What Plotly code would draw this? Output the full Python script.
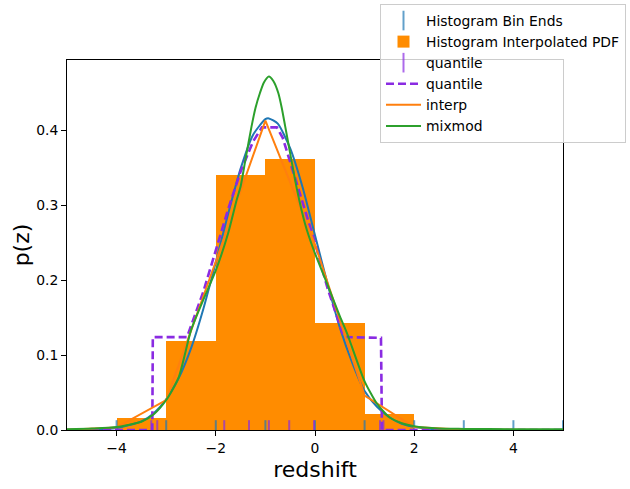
import plotly.graph_objects as go

# ---------------- data ----------------
bin_edges = [-4, -3, -2, -1, 0, 1, 2, 3, 4, 5]
bin_heights = [0.016, 0.119, 0.340, 0.362, 0.143, 0.021, 0.0, 0.0, 0.0]

quantile_locs = [-3.30, -3.18, -1.83, -1.33, -0.93, -0.52, -0.02, 1.31, 1.38]

quant_x = [-5.0, -3.28, -3.27, -2.58, -2.25, -2.0, -1.75, -1.5, -1.25, -1.07,
           -0.77, -0.65, -0.5, -0.25, 0.0, 0.25, 0.5, 0.58, 1.33, 1.35, 5.0]
quant_y = [0.0, 0.0, 0.124, 0.124, 0.185, 0.240, 0.295, 0.345, 0.385, 0.404,
           0.404, 0.390, 0.358, 0.305, 0.250, 0.190, 0.140, 0.124, 0.123, 0.0, 0.0]

interp_x = [-5, -4, -3, -2, -1, 0, 1, 2, 3, 4, 5]
interp_y = [0.0003, 0.0035, 0.040, 0.225, 0.413, 0.248, 0.046, 0.004, 0.0005, 0.0001, 0.0]

mix_x = [-5.0, -4.5, -4.0, -3.5, -3.25, -3.0, -2.75, -2.5, -2.25, -2.0, -1.75,
         -1.58, -1.5, -1.4, -1.28, -1.2, -1.11, -1.03, -0.93, -0.84, -0.74, -0.67,
         -0.6, -0.48, -0.36, -0.2, -0.03,
         0.24, 0.5, 0.64, 0.75, 1.0, 1.25, 1.5, 1.75, 2.0, 2.5, 3.0, 4.0, 5.0]
mix_y = [0.001, 0.002, 0.004, 0.011, 0.021, 0.040, 0.070, 0.133, 0.174, 0.213, 0.263,
         0.307, 0.325, 0.362, 0.405, 0.430, 0.450, 0.464, 0.472, 0.466, 0.450, 0.430,
         0.405, 0.362, 0.320, 0.275, 0.241,
         0.196, 0.152, 0.130, 0.110, 0.065, 0.035, 0.017, 0.009, 0.005, 0.002, 0.0015, 0.001, 0.001]

true_x = [-5.0, -4.5, -4.0, -3.5, -3.25, -3.0, -2.75, -2.5, -2.25, -2.0, -1.75,
          -1.5, -1.25, -1.0, -0.93, -0.75, -0.5, -0.25, 0.0, 0.25, 0.5, 0.75,
          1.0, 1.25, 1.5, 1.75, 2.0, 2.5, 3.0, 4.0, 5.0]
true_y = [0.0001, 0.0004, 0.0025, 0.0116, 0.0225, 0.041, 0.069, 0.109, 0.162, 0.224, 0.289,
          0.349, 0.394, 0.415, 0.416, 0.409, 0.376, 0.324, 0.260, 0.196, 0.137, 0.090,
          0.052, 0.031, 0.017, 0.0084, 0.004, 0.0007, 0.0001, 0.0, 0.0]

# ---------------- figure ----------------
centers = [(bin_edges[i] + bin_edges[i + 1]) / 2 for i in range(len(bin_heights))]
widths = [bin_edges[i + 1] - bin_edges[i] for i in range(len(bin_heights))]

fig = go.Figure()

fig.add_trace(go.Scatter(
    x=bin_edges, y=[0] * len(bin_edges), mode="markers", name="Histogram Bin Ends",
    marker=dict(symbol="line-ns", size=14, line=dict(width=2, color="rgba(31,119,180,0.7)")),
))
fig.add_trace(go.Bar(
    x=centers, y=bin_heights, width=widths, name="Histogram Interpolated PDF",
    marker=dict(color="#ff8c00", line=dict(width=0)),
))
fig.add_trace(go.Scatter(
    x=true_x, y=true_y, mode="lines", showlegend=False,
    line=dict(color="#1f77b4", width=2, shape="spline", smoothing=0.6),
))
fig.add_trace(go.Scatter(
    x=quantile_locs, y=[0] * len(quantile_locs), mode="markers", name="quantile",
    marker=dict(symbol="line-ns", size=14, line=dict(width=2, color="rgba(138,43,226,0.7)")),
))
fig.add_trace(go.Scatter(
    x=quant_x, y=quant_y, mode="lines", name="quantile",
    line=dict(color="#8a2be2", width=2.6, dash="8px,4px"),
))
fig.add_trace(go.Scatter(
    x=interp_x, y=interp_y, mode="lines", name="interp",
    line=dict(color="#ff7f0e", width=2),
))
fig.add_trace(go.Scatter(
    x=mix_x, y=mix_y, mode="lines", name="mixmod",
    line=dict(color="#2ca02c", width=2, shape="spline", smoothing=0.6),
))

fig.update_layout(
    width=630, height=489,
    margin=dict(l=67, r=67, t=60, b=59, autoexpand=False),
    paper_bgcolor="white", plot_bgcolor="white",
    font=dict(family="DejaVu Sans", size=13.9, color="black"),
    bargap=0,
    legend=dict(
        xref="container", yref="container",
        x=380 / 630, y=1 - 4 / 489, xanchor="left", yanchor="top",
        bgcolor="rgba(255,255,255,0.8)", bordercolor="#cccccc", borderwidth=1,
        font=dict(size=13.9), tracegroupgap=0, itemwidth=35,
    ),
    xaxis=dict(
        range=[-5, 5], tickvals=[-4, -2, 0, 2, 4],
        showline=True, linecolor="black", linewidth=1, mirror=True,
        ticks="outside", ticklen=5, tickcolor="black", showgrid=False, zeroline=False,
        title=dict(text="redshift", font=dict(size=22), standoff=6),
    ),
    yaxis=dict(
        range=[0, 0.494], tickvals=[0, 0.1, 0.2, 0.3, 0.4], tickformat=".1f",
        showline=True, linecolor="black", linewidth=1, mirror=True,
        ticks="outside", ticklen=5, tickcolor="black", showgrid=False, zeroline=False,
        title=dict(text="p(z)", font=dict(size=22), standoff=0),
    ),
)

fig.write_html("out.html")
